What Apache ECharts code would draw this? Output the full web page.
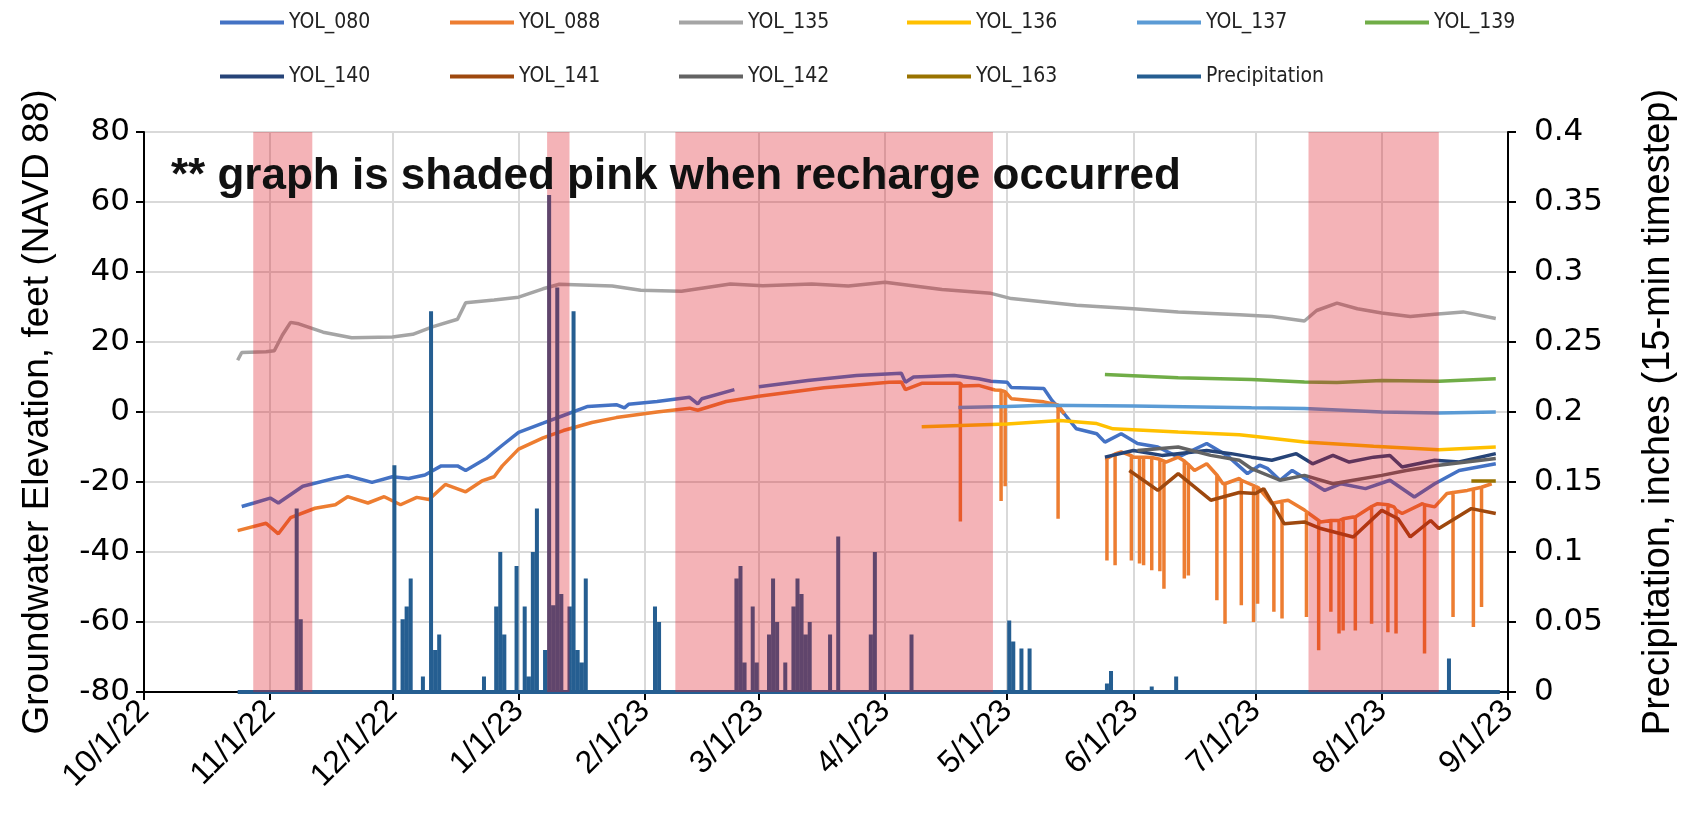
<!DOCTYPE html>
<html>
<head>
<meta charset="utf-8">
<script src="https://cdn.jsdelivr.net/npm/echarts@6/dist/echarts.min.js"></script>
<style>
  html, body { margin: 0; padding: 0; background: #fff; }
  #main { width: 1683px; height: 825px; }
</style>
</head>
<body>
<div id="main"></div>
<script>
// groundwater levels, feet NAVD 88
const yol080 = [['2022-10-25',-27.0],['2022-10-28',-26.0],['2022-11-01',-24.6],['2022-11-03',-26.0],['2022-11-09',-21.2],['2022-11-17',-18.9],['2022-11-20',-18.2],['2022-11-26',-20.1],['2022-12-01',-18.5],['2022-12-05',-19.0],['2022-12-09',-18.0],['2022-12-13',-15.4],['2022-12-17',-15.4],['2022-12-19',-16.7],['2022-12-24',-13.3],['2022-12-28',-9.5],['2023-01-01',-5.8],['2023-01-07',-3.2],['2023-01-12',-1.0],['2023-01-18',1.6],['2023-01-25',2.1],['2023-01-27',1.2],['2023-01-28',2.2],['2023-02-04',3.0],['2023-02-12',4.2],['2023-02-14',2.3],['2023-02-15',3.8],['2023-02-23',6.4],['2023-02-26','-'],['2023-03-01',7.2],['2023-03-13',9.0],['2023-03-25',10.4],['2023-04-05',11.1],['2023-04-06',8.5],['2023-04-08',10.0],['2023-04-18',10.4],['2023-04-24',9.5],['2023-04-27',8.8],['2023-05-01',8.5],['2023-05-02',7.0],['2023-05-10',6.7],['2023-05-12',3.3],['2023-05-15',-0.5],['2023-05-18',-4.8],['2023-05-23',-6.2],['2023-05-25',-8.6],['2023-05-29',-6.2],['2023-06-02',-9.0],['2023-06-07',-10.0],['2023-06-12',-12.9],['2023-06-19',-9.0],['2023-06-24',-12.4],['2023-06-29',-17.6],['2023-07-02',-15.2],['2023-07-04',-16.2],['2023-07-07',-19.5],['2023-07-10',-16.7],['2023-07-18',-22.4],['2023-07-22',-20.5],['2023-07-28',-21.9],['2023-08-03',-19.5],['2023-08-09',-24.3],['2023-08-14',-20.5],['2023-08-20',-16.7],['2023-08-29',-14.8]];

const yol088 = [['2022-10-24',-33.9],['2022-10-31',-31.8],['2022-11-03',-34.8],['2022-11-06',-30.2],['2022-11-12',-27.5],['2022-11-17',-26.5],['2022-11-20',-24.2],['2022-11-25',-26.0],['2022-11-29',-24.2],['2022-12-03',-26.5],['2022-12-07',-24.4],['2022-12-10',-25.0],['2022-12-14',-20.7],['2022-12-19',-22.8],['2022-12-23',-19.7],['2022-12-26',-18.5],['2022-12-28',-15.4],['2023-01-01',-10.6],['2023-01-07',-7.4],['2023-01-12',-5.3],['2023-01-19',-3.0],['2023-01-25',-1.6],['2023-02-04',0.0],['2023-02-12',1.1],['2023-02-14',0.5],['2023-02-21',3.0],['2023-03-01',4.5],['2023-03-17',6.9],['2023-04-02',8.5],['2023-04-05',8.6],['2023-04-06',6.4],['2023-04-10',8.2],['2023-04-19',8.2],['2023-04-20',7.4],['2023-04-24',7.6],['2023-04-28',6.3],['2023-05-02',3.8],['2023-05-10',2.9],['2023-05-15',-0.5],['2023-05-20','-'],['2023-05-25',-13.3],['2023-05-29',-11.4],['2023-06-01',-12.9],['2023-06-04',-12.9],['2023-06-09',-14.3],['2023-06-12',-12.9],['2023-06-16',-16.7],['2023-06-19',-14.8],['2023-06-23',-20.5],['2023-06-27',-19.0],['2023-07-01',-21.4],['2023-07-05',-26.2],['2023-07-09',-25.2],['2023-07-13',-28.0],['2023-07-17',-31.4],['2023-07-21',-31.0],['2023-07-25',-30.0],['2023-07-31',-26.2],['2023-08-04',-27.1],['2023-08-06',-29.0],['2023-08-11',-26.2],['2023-08-14',-27.1],['2023-08-17',-23.3],['2023-08-22',-22.4],['2023-08-28',-20.5]];

// YOL_088 short drawdowns: date, level before, lowest level
const yol088Dips = [['2023-04-19',8.2,-31.3],['2023-04-29',6.2,-25.4],['2023-04-30',5.8,-21.2],['2023-05-13',2.0,-30.5],['2023-05-25',-13.3,-42.4],['2023-05-27',-12.0,-43.8],['2023-05-31',-12.5,-42.4],['2023-06-02',-12.9,-43.3],['2023-06-03',-12.9,-43.8],['2023-06-05',-13.0,-45.2],['2023-06-07',-13.5,-45.5],['2023-06-08',-14.0,-50.5],['2023-06-13',-14.0,-47.6],['2023-06-14',-15.0,-46.7],['2023-06-21',-18.0,-53.8],['2023-06-23',-20.5,-60.5],['2023-06-27',-19.5,-55.2],['2023-06-30',-21.0,-60.0],['2023-07-01',-21.4,-54.8],['2023-07-05',-26.0,-57.1],['2023-07-07',-25.5,-59.0],['2023-07-13',-28.5,-58.6],['2023-07-16',-31.0,-68.1],['2023-07-19',-31.0,-57.1],['2023-07-21',-31.0,-63.3],['2023-07-22',-30.5,-62.4],['2023-07-25',-30.0,-62.4],['2023-07-29',-27.0,-60.5],['2023-08-02',-26.5,-62.9],['2023-08-04',-28.0,-63.3],['2023-08-11',-26.5,-69.0],['2023-08-18',-23.0,-58.6],['2023-08-23',-22.0,-61.4],['2023-08-25',-21.5,-55.7]];

const yol135 = [['2022-10-24',14.8],['2022-10-25',17.0],['2022-10-31',17.2],['2022-11-02',17.5],['2022-11-04',22.0],['2022-11-06',25.6],['2022-11-08',25.2],['2022-11-14',22.8],['2022-11-21',21.2],['2022-12-01',21.4],['2022-12-06',22.2],['2022-12-11',24.4],['2022-12-17',26.5],['2022-12-19',31.2],['2022-12-26',32.0],['2023-01-01',32.8],['2023-01-07',35.2],['2023-01-11',36.5],['2023-01-24',36.0],['2023-01-31',34.8],['2023-02-10',34.5],['2023-02-22',36.6],['2023-03-02',36.1],['2023-03-14',36.6],['2023-03-23',36.0],['2023-04-01',37.1],['2023-04-15',35.0],['2023-04-27',33.9],['2023-05-02',32.4],['2023-05-18',30.5],['2023-06-01',29.5],['2023-06-12',28.6],['2023-06-27',27.8],['2023-07-05',27.3],['2023-07-13',26.0],['2023-07-16',29.0],['2023-07-21',31.1],['2023-07-26',29.5],['2023-08-01',28.3],['2023-08-08',27.3],['2023-08-14',27.9],['2023-08-21',28.6],['2023-08-29',26.7]];

const yol136 = [['2023-04-10',-4.2],['2023-05-01',-3.4],['2023-05-14',-2.4],['2023-05-23',-3.3],['2023-05-27',-4.8],['2023-06-12',-5.7],['2023-06-27',-6.5],['2023-07-01',-7.0],['2023-07-13',-8.6],['2023-07-30',-9.8],['2023-08-15',-10.8],['2023-08-29',-10.0]];
const yol137 = [['2023-04-19',1.3],['2023-05-01',1.6],['2023-05-10',1.9],['2023-06-01',1.7],['2023-06-30',1.2],['2023-07-13',1.0],['2023-08-01',0.0],['2023-08-15',-0.3],['2023-08-29',0.0]];
const yol139 = [['2023-05-25',10.7],['2023-06-12',9.8],['2023-06-30',9.3],['2023-07-13',8.6],['2023-07-21',8.4],['2023-08-01',9.0],['2023-08-15',8.8],['2023-08-29',9.5]];
const yol140 = [['2023-05-25',-12.9],['2023-06-01',-11.0],['2023-06-08',-12.4],['2023-06-19',-11.0],['2023-06-25',-11.9],['2023-06-30',-12.9],['2023-07-05',-13.8],['2023-07-11',-11.9],['2023-07-15',-14.8],['2023-07-20',-12.4],['2023-07-24',-14.3],['2023-07-30',-12.9],['2023-08-03',-12.4],['2023-08-06',-15.7],['2023-08-14',-13.8],['2023-08-20',-14.3],['2023-08-29',-11.9]];
const yol141 = [['2023-05-31',-16.7],['2023-06-07',-22.4],['2023-06-12',-17.6],['2023-06-20',-25.2],['2023-06-27',-23.0],['2023-07-01',-23.3],['2023-07-03',-21.9],['2023-07-08',-31.9],['2023-07-13',-31.4],['2023-07-17',-33.3],['2023-07-25',-35.7],['2023-08-01',-28.1],['2023-08-05',-30.5],['2023-08-08',-35.7],['2023-08-13',-31.0],['2023-08-15',-33.3],['2023-08-23',-27.6],['2023-08-29',-29.0]];
const yol142 = [['2023-06-02',-11.0],['2023-06-12',-10.0],['2023-06-20',-12.4],['2023-06-27',-13.8],['2023-06-30',-16.2],['2023-07-07',-19.5],['2023-07-13',-18.1],['2023-07-20',-20.5],['2023-07-25',-19.5],['2023-08-01',-18.1],['2023-08-07',-16.7],['2023-08-15',-15.2],['2023-08-29',-13.3]];
const yol163 = [['2023-08-23',-19.7],['2023-08-29',-19.7]];

// precipitation, inches per 15 min
const precipStart = '2022-10-24';
const precipEnd = '2023-08-30';
const precipEvents = [['2022-11-07',0.131],['2022-11-08',0.052],['2022-12-01',0.162],['2022-12-03',0.052],['2022-12-04',0.061],['2022-12-05',0.081],['2022-12-08',0.011],['2022-12-10',0.272],['2022-12-11',0.030],['2022-12-12',0.041],['2022-12-23',0.011],['2022-12-26',0.061],['2022-12-27',0.100],['2022-12-28',0.041],['2022-12-31',0.090],['2023-01-02',0.061],['2023-01-03',0.011],['2023-01-04',0.100],['2023-01-05',0.131],['2023-01-07',0.030],['2023-01-08',0.355],['2023-01-09',0.062],['2023-01-10',0.289],['2023-01-11',0.070],['2023-01-13',0.061],['2023-01-14',0.272],['2023-01-15',0.030],['2023-01-16',0.021],['2023-01-17',0.081],['2023-02-03',0.061],['2023-02-04',0.050],['2023-02-23',0.081],['2023-02-24',0.090],['2023-02-25',0.021],['2023-02-27',0.061],['2023-02-28',0.021],['2023-03-03',0.041],['2023-03-04',0.081],['2023-03-05',0.050],['2023-03-07',0.021],['2023-03-09',0.061],['2023-03-10',0.081],['2023-03-11',0.070],['2023-03-12',0.041],['2023-03-13',0.050],['2023-03-18',0.041],['2023-03-20',0.111],['2023-03-28',0.041],['2023-03-29',0.100],['2023-04-07',0.041],['2023-05-01',0.051],['2023-05-02',0.036],['2023-05-04',0.031],['2023-05-06',0.031],['2023-05-25',0.006],['2023-05-26',0.015],['2023-06-05',0.004],['2023-06-11',0.011],['2023-08-17',0.024]];

// recharge periods (shaded pink)
const rechargePeriods = [['2022-10-27 20:00','2022-11-11 08:00'],['2023-01-08','2023-01-13 12:00'],['2023-02-08 12:00','2023-04-27 12:00'],['2023-07-14','2023-08-15']];

const legendNames = ['YOL_080','YOL_088','YOL_135','YOL_136','YOL_137','YOL_139','YOL_140','YOL_141','YOL_142','YOL_163','Precipitation'];

function toTime(s) {
  const parts = s.split(' ');
  const [y, m, d] = parts[0].split('-').map(Number);
  const [h, mi] = parts[1] ? parts[1].split(':').map(Number) : [0, 0];
  return new Date(y, m - 1, d, h, mi).getTime();
}
const HALF_DAY = 12 * 3600 * 1000;

function withDips(base, dips) {
  const pts = base.map(p => [toTime(p[0]), p[1]]);
  dips.forEach(([t, lvl, low]) => {
    const x = toTime(t) + HALF_DAY;
    pts.push([x, lvl], [x, low], [x, lvl]);
  });
  return pts.sort((a, b) => a[0] - b[0]);
}

function precipLine() {
  const pts = [[toTime(precipStart), 0]];
  precipEvents.forEach(([t, v]) => {
    const x = toTime(t) + HALF_DAY;
    pts.push([x, 0], [x, v], [x, 0]);
  });
  pts.push([toTime(precipEnd), 0]);
  return pts.sort((a, b) => a[0] - b[0]);
}

function line(name, data, color, extra) {
  return Object.assign({
    name: name,
    type: 'line',
    symbol: 'none',
    showSymbol: false,
    animation: false,
    connectNulls: false,
    data: data,
    lineStyle: { width: 3.5, color: color },
    itemStyle: { color: color }
  }, extra || {});
}
const pts = arr => arr.map(p => [toTime(p[0]), p[1]]);

let myChart = echarts.init(document.getElementById('main'));

const legendLeft = [215, 445, 674, 902, 1132, 1360];
const legendTop = [7, 61];
const font = 'Liberation Sans, Arial, sans-serif';
const tickFont = 'DejaVu Sans, Verdana, sans-serif';

myChart.setOption({
  backgroundColor: '#fff',
  title: {
    text: '** graph is shaded pink when recharge occurred',
    left: 166,
    top: 150,
    z: 20,
    textStyle: { fontSize: 44, fontWeight: 'bold', color: '#111', fontFamily: font }
  },
  legend: legendNames.map((n, i) => ({
    data: [n],
    left: legendLeft[i % 6],
    top: legendTop[Math.floor(i / 6)],
    icon: 'rect',
    itemWidth: 64,
    itemHeight: 4,
    selectedMode: false,
    textStyle: { fontSize: 21, color: '#222', fontFamily: 'Liberation Sans Narrow, DejaVu Sans Condensed, sans-serif' }
  })),
  grid: {
    left: 144, right: 175, top: 132, bottom: 133,
    show: true, borderColor: '#000', borderWidth: 2,
    outerBoundsMode: 'none'
  },
  xAxis: {
    type: 'time',
    min: toTime('2022-10-01'),
    max: toTime('2023-09-01'),
    minInterval: 28 * 86400000,
    maxInterval: 31 * 86400000,
    axisLine: { onZero: false, lineStyle: { color: '#000', width: 2 } },
    axisTick: { show: true, length: 8, lineStyle: { color: '#000', width: 2 } },
    splitLine: { show: true, lineStyle: { color: '#D9D9D9', width: 2 } },
    axisLabel: {
      rotate: 45, fontSize: 32, color: '#000', margin: 14, fontFamily: font,
      showMinLabel: true, showMaxLabel: true, hideOverlap: false,
      formatter: function (v) {
        const d = new Date(v);
        return (d.getMonth() + 1) + '/' + d.getDate() + '/' + String(d.getFullYear()).slice(2);
      }
    }
  },
  yAxis: [
    {
      type: 'value', min: -80, max: 80, interval: 20,
      name: 'Groundwater Elevation, feet (NAVD 88)',
      nameLocation: 'middle', nameRotate: 90, nameGap: 88,
      nameTextStyle: { fontSize: 37, color: '#000', fontFamily: font },
      axisLine: { show: true, onZero: false, lineStyle: { color: '#000', width: 2 } },
      axisTick: { show: true, length: 8, lineStyle: { color: '#000', width: 2 } },
      axisLabel: { fontSize: 31, color: '#000', margin: 14, fontFamily: tickFont },
      splitLine: { show: true, lineStyle: { color: '#D9D9D9', width: 2 } }
    },
    {
      type: 'value', min: 0, max: 0.4, interval: 0.05, position: 'right',
      name: 'Precipitation, inches (15-min timestep)',
      nameLocation: 'middle', nameRotate: 90, nameGap: 132,
      nameTextStyle: { fontSize: 38, color: '#000', fontFamily: font },
      axisLine: { show: true, onZero: false, lineStyle: { color: '#000', width: 2 } },
      axisTick: { show: true, length: 8, lineStyle: { color: '#000', width: 2 } },
      axisLabel: {
        fontSize: 31, color: '#000', margin: 26, fontFamily: tickFont,
        formatter: v => String(+v.toFixed(2))
      },
      splitLine: { show: false }
    }
  ],
  series: [
    line('YOL_080', pts(yol080), '#4472C4'),
    line('YOL_088', withDips(yol088, yol088Dips), '#ED7D31'),
    line('YOL_135', pts(yol135), '#A5A5A5'),
    line('YOL_136', pts(yol136), '#FFC000'),
    line('YOL_137', pts(yol137), '#5B9BD5'),
    line('YOL_139', pts(yol139), '#70AD47'),
    line('YOL_140', pts(yol140), '#264478'),
    line('YOL_141', pts(yol141), '#9E480E'),
    line('YOL_142', pts(yol142), '#636363'),
    line('YOL_163', pts(yol163), '#997300'),
    line('Precipitation', precipLine(), '#255E91', {
      yAxisIndex: 1,
      lineStyle: { width: 4, color: '#255E91' },
      markArea: {
        silent: true,
        z: 10,
        itemStyle: { color: 'rgba(220, 20, 30, 0.32)' },
        data: rechargePeriods.map(([a, b]) => [{ xAxis: toTime(a) }, { xAxis: toTime(b) }])
      }
    })
  ]
});
</script>
</body>
</html>
